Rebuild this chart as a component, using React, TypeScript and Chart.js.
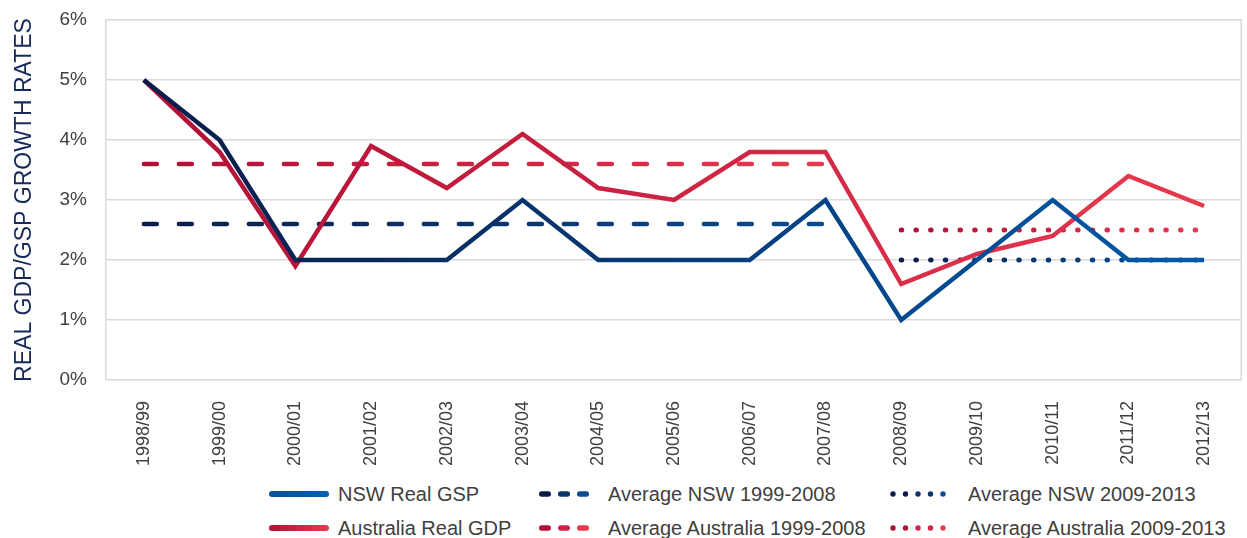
import React, { useEffect, useRef } from "react";
import { Chart, registerables } from "chart.js";

Chart.register(...registerables);

const categories = [
  "1998/99", "1999/00", "2000/01", "2001/02", "2002/03", "2003/04", "2004/05", "2005/06",
  "2006/07", "2007/08", "2008/09", "2009/10", "2010/11", "2011/12", "2012/13",
];
const nswRealGsp = [5, 4, 2, 2, 2, 3, 2, 2, 2, 3, 1, 2, 3, 2, 2];
const ausRealGdp = [5, 3.8, 1.9, 3.9, 3.2, 4.1, 3.2, 3.0, 3.8, 3.8, 1.6, 2.1, 2.4, 3.4, 2.9];
const avgNsw9908 = [2.6, 2.6, 2.6, 2.6, 2.6, 2.6, 2.6, 2.6, 2.6, 2.6, null, null, null, null, null];
const avgAus9908 = [3.6, 3.6, 3.6, 3.6, 3.6, 3.6, 3.6, 3.6, 3.6, 3.6, null, null, null, null, null];
const avgNsw0913 = [null, null, null, null, null, null, null, null, null, null, 2, 2, 2, 2, 2];
const avgAus0913 = [null, null, null, null, null, null, null, null, null, null, 2.5, 2.5, 2.5, 2.5, 2.5];
const yTicks = [0, 1, 2, 3, 4, 5, 6];

const NAVY = "#0b1c48";
const BLUE = "#005aa8";
const DKRED = "#b10f36";
const RED = "#e8394f";
const FONT = "'Liberation Sans', Arial, sans-serif";

function spanOf(data: (number | null)[]) {
  let a = -1, b = -1;
  data.forEach((v, i) => {
    if (v !== null) {
      if (a < 0) a = i;
      b = i;
    }
  });
  return [a, b];
}

function grad(data: (number | null)[], c0: string, c1: string) {
  return (context: any) => {
    const chart = context.chart;
    const xs = chart.scales && chart.scales.x;
    if (!chart.chartArea || !xs) return c0;
    const [a, b] = spanOf(data);
    const x0 = xs.getPixelForValue(a);
    const x1 = xs.getPixelForValue(b);
    const g = chart.ctx.createLinearGradient(x0, 0, x1 === x0 ? x0 + 1 : x1, 0);
    g.addColorStop(0, c0);
    g.addColorStop(1, c1);
    return g;
  };
}

const rightBorder = {
  id: "rightBorder",
  beforeDatasetsDraw(chart: any) {
    const { ctx, chartArea } = chart;
    ctx.save();
    ctx.strokeStyle = "#d9d9d9";
    ctx.lineWidth = 1.5;
    ctx.beginPath();
    ctx.moveTo(chartArea.right - 0.75, chartArea.top);
    ctx.lineTo(chartArea.right - 0.75, chartArea.bottom);
    ctx.stroke();
    ctx.restore();
  },
};

function mix(a: string, b: string) {
  const p = (h: string) => [1, 3, 5].map((i) => parseInt(h.slice(i, i + 2), 16));
  const x = p(a), y = p(b);
  return "rgb(" + x.map((v, i) => Math.round((v + y[i]) / 2)).join(",") + ")";
}

function Swatch({ kind, c0, c1, id }: { kind: string; c0: string; c1: string; id: string }) {
  const w = kind === "solid" ? 62 : kind === "dash" ? 54 : 64;
  return (
    <svg width={w} height={10} style={{ display: "block" }}>
      <defs>
        <linearGradient id={id} gradientUnits="userSpaceOnUse" x1="0" y1="0" x2={w} y2="0">
          <stop offset="0" stopColor={c0} />
          <stop offset="1" stopColor={c1} />
        </linearGradient>
      </defs>
      {kind === "solid" && <rect x={1} y={2} width={w - 2} height={6} rx={3} fill={`url(#${id})`} />}
      {kind === "dash" &&
        [0, 1, 2].map((i) => (
          <rect key={i} x={2 + i * 19} y={2.2} width={12} height={5.6} rx={2.8} fill={i === 0 ? c0 : i === 1 ? mix(c0, c1) : c1} />
        ))}
      {kind === "dot" &&
        [0, 1, 2, 3, 4].map((i) => (
          <circle key={i} cx={3 + i * 12.5} cy={5} r={2.7} fill={i < 2 ? c0 : i < 4 ? mix(c0, c1) : c1} />
        ))}
    </svg>
  );
}

const legendItems = [
  { label: "NSW Real GSP", kind: "solid", c0: "#0a4f98", c1: "#0062b4", left: 268, top: 494 },
  { label: "Average NSW 1999-2008", kind: "dash", c0: NAVY, c1: "#0a4c90", left: 537, top: 494 },
  { label: "Average NSW 2009-2013", kind: "dot", c0: NAVY, c1: "#0a4c90", left: 890, top: 494 },
  { label: "Australia Real GDP", kind: "solid", c0: DKRED, c1: RED, left: 268, top: 528 },
  { label: "Average Australia 1999-2008", kind: "dash", c0: DKRED, c1: RED, left: 537, top: 528 },
  { label: "Average Australia 2009-2013", kind: "dot", c0: DKRED, c1: RED, left: 890, top: 528 },
];
const legendTextLeft = [338, 608, 968];

export default function App() {
  const ref = useRef<HTMLCanvasElement>(null);
  useEffect(() => {
    if (!ref.current) return;
    const chart = new Chart(ref.current, {
      type: "line",
      data: {
        labels: categories,
        datasets: [
          {
            label: "NSW Real GSP",
            data: nswRealGsp,
            borderColor: grad(nswRealGsp, NAVY, BLUE),
            borderWidth: 4.5,
            pointRadius: 0,
            order: 0,
          },
          {
            label: "Australia Real GDP",
            data: ausRealGdp,
            borderColor: grad(ausRealGdp, DKRED, RED),
            borderWidth: 4.5,
            pointRadius: 0,
            order: 1,
          },
          {
            label: "Average NSW 1999-2008",
            data: avgNsw9908,
            borderColor: grad(avgNsw9908, NAVY, "#0a4c90"),
            borderWidth: 4.5,
            borderDash: [13, 22],
            borderCapStyle: "round",
            pointRadius: 0,
            order: 2,
          },
          {
            label: "Average Australia 1999-2008",
            data: avgAus9908,
            borderColor: grad(avgAus9908, DKRED, RED),
            borderWidth: 4.5,
            borderDash: [13, 22],
            borderCapStyle: "round",
            pointRadius: 0,
            order: 3,
          },
          {
            label: "Average NSW 2009-2013",
            data: avgNsw0913,
            borderColor: grad(avgNsw0913, NAVY, BLUE),
            borderWidth: 5,
            borderDash: [0.5, 14.2],
            borderCapStyle: "round",
            pointRadius: 0,
            order: 4,
          },
          {
            label: "Average Australia 2009-2013",
            data: avgAus0913,
            borderColor: grad(avgAus0913, DKRED, RED),
            borderWidth: 5,
            borderDash: [0.5, 14.2],
            borderCapStyle: "round",
            pointRadius: 0,
            order: 5,
          },
        ] as any,
      },
      options: {
        animation: false,
        responsive: true,
        maintainAspectRatio: false,
        layout: { padding: { left: 0, right: 0, top: 20, bottom: 0 } },
        plugins: { legend: { display: false }, tooltip: { enabled: false } },
        elements: { line: { tension: 0, borderJoinStyle: "miter" } },
        scales: {
          x: {
            offset: true,
            grid: { display: false, offset: true },
            border: { display: false },
            ticks: {
              minRotation: 90,
              maxRotation: 90,
              padding: 13,
              color: "#404040",
              font: { family: FONT, size: 18 },
            },
            afterFit: (s: any) => {
              s.height = 95;
              s.paddingLeft = 0;
              s.paddingRight = 0;
            },
          },
          y: {
            min: 0,
            max: 6,
            afterBuildTicks: (s: any) => {
              s.ticks = yTicks.map((v) => ({ value: v }));
            },
            grid: { color: "#d9d9d9", lineWidth: 1.5, drawTicks: false },
            border: { display: true, color: "#d9d9d9", width: 1.5 },
            ticks: {
              padding: 19,
              color: "#404040",
              font: { family: FONT, size: 19 },
              callback: (v: any) => v + "%",
            },
            title: {
              display: true,
              text: "REAL GDP/GSP GROWTH RATES",
              color: "#16295a",
              font: { family: FONT, size: 23 },
              padding: { top: 11, bottom: 0 },
            },
            afterFit: (s: any) => {
              s.width = 106;
              s.paddingTop = 0;
              s.paddingBottom = 0;
            },
          },
        },
      },
      plugins: [rightBorder],
    });
    return () => chart.destroy();
  }, []);

  return (
    <div style={{ position: "absolute", left: 0, top: 0, width: 1247, height: 538, background: "#fff", fontFamily: FONT }}>
      <div style={{ position: "absolute", left: 0, top: 0, width: 1242, height: 475 }}>
        <canvas ref={ref} />
      </div>
      {legendItems.map((it, i) => (
        <React.Fragment key={i}>
          <div style={{ position: "absolute", left: it.left, top: it.top - 5 }}>
            <Swatch kind={it.kind} c0={it.c0} c1={it.c1} id={"lg" + i} />
          </div>
          <div
            style={{
              position: "absolute",
              left: legendTextLeft[i % 3],
              top: it.top - 12,
              fontSize: 20,
              lineHeight: "24px",
              color: "#404040",
              whiteSpace: "nowrap",
            }}
          >
            {it.label}
          </div>
        </React.Fragment>
      ))}
    </div>
  );
}
